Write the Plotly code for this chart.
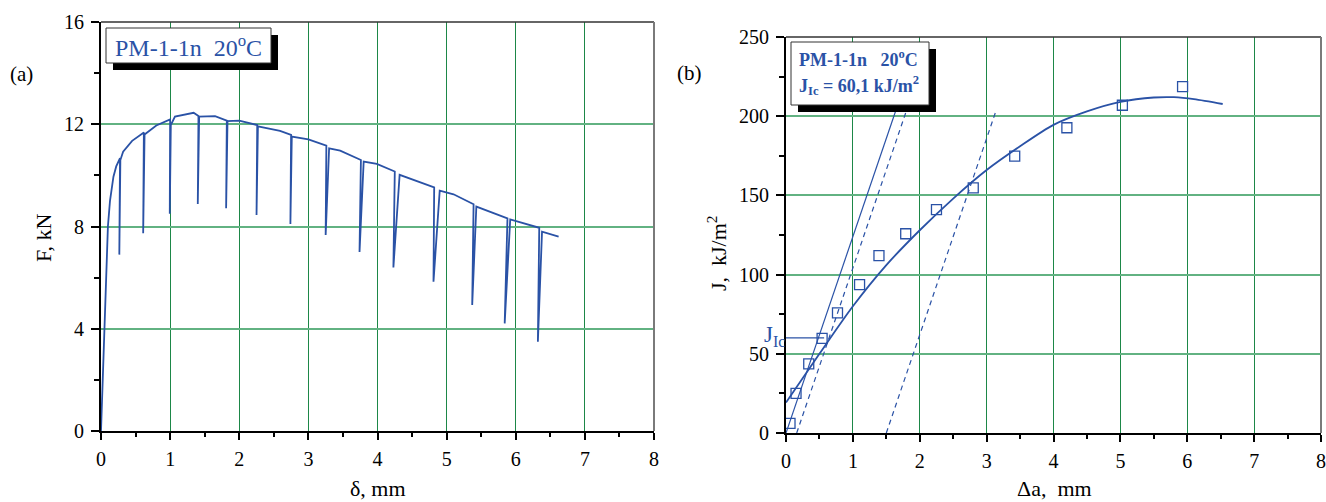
import plotly.graph_objects as go

# ---------------- data: panel (a) load-displacement record ----------------
delta_mm = [0.0, 0.05, 0.10, 0.13, 0.18, 0.22, 0.275, 0.265, 0.28, 0.32, 0.45,
            0.62, 0.61, 0.63, 0.80, 1.00, 0.995, 1.01, 1.07, 1.34,
            1.41, 1.40, 1.42, 1.65, 1.82, 1.81, 1.83, 2.00,
            2.26, 2.25, 2.27, 2.59, 2.75, 2.74, 2.76, 3.00,
            3.26, 3.25, 3.30, 3.46, 3.76, 3.74, 3.80, 3.99,
            4.25, 4.23, 4.32, 4.82, 4.81, 4.90, 5.10,
            5.39, 5.37, 5.43, 5.88, 5.84, 5.92, 6.34, 6.32, 6.38, 6.62]
force_kN = [0.0, 4.0, 8.0, 9.0, 9.95, 10.35, 10.67, 6.9, 10.6, 10.93, 11.35,
            11.68, 7.74, 11.6, 11.95, 12.19, 8.5, 11.97, 12.3, 12.45,
            12.32, 8.88, 12.3, 12.32, 12.14, 8.71, 12.12, 12.14,
            11.97, 8.45, 11.92, 11.74, 11.58, 8.1, 11.52, 11.41,
            11.16, 7.67, 11.06, 10.97, 10.6, 7.0, 10.54, 10.45,
            10.15, 6.4, 10.02, 9.53, 5.84, 9.40, 9.26,
            8.87, 4.93, 8.78, 8.32, 4.21, 8.28, 7.95, 3.49, 7.8, 7.6]

# ---------------- data: panel (b) J-R curve ----------------
da_pts = [0.06, 0.15, 0.34, 0.54, 0.77, 1.10, 1.39, 1.79, 2.25, 2.80, 3.42, 4.20, 5.03, 5.93]
J_pts = [6.1, 25.0, 43.7, 59.7, 75.8, 93.7, 112.0, 125.8, 141.0, 154.8, 174.8, 192.7, 206.9, 218.7]

fit_da = [0.0, 0.5, 1.0, 1.5, 2.0, 2.5, 3.0, 3.5, 4.0, 4.5, 5.0, 5.5, 5.8, 6.1, 6.53]
fit_J = [19.2, 50.0, 80.0, 106.0, 128.0, 148.0, 166.0, 181.0, 194.5, 203.0, 209.0, 211.8, 212.0, 210.8, 207.7]

blunt_slope = 124.0          # kJ/m^2 per mm
blunt_offsets = [0.0, 0.16, 1.5]
blunt_dash = ["solid", "dash", "dash"]
blunt_J_end = 203.0
J_Ic = 60.1
J_Ic_da_end = 0.57

x_ticks = [0, 1, 2, 3, 4, 5, 6, 7, 8]
yA_ticks = [0, 4, 8, 12, 16]
yB_ticks = [0, 50, 100, 150, 200, 250]

# ---------------- styling ----------------
W, H = 1326, 502
BLUE = "#2a52a6"
SERIF = "Liberation Serif, Times New Roman, serif"
GRID_V = "#1d8747"
GRID_H = "#62b282"


def px(x):
    return x / W


def py(y):
    return 1 - y / H


fig = go.Figure()

fig.add_trace(go.Scatter(x=delta_mm, y=force_kN, mode="lines",
                         line=dict(color=BLUE, width=1.8),
                         xaxis="x", yaxis="y", hoverinfo="skip"))

for off, dsh in zip(blunt_offsets, blunt_dash):
    xs = [off, off + blunt_J_end / blunt_slope]
    ys = [0.0, blunt_J_end]
    fig.add_trace(go.Scatter(x=xs, y=ys, mode="lines",
                             line=dict(color=BLUE, width=1.2,
                                       dash="5px,4px" if dsh == "dash" else "solid"),
                             xaxis="x2", yaxis="y2", hoverinfo="skip"))

fig.add_trace(go.Scatter(x=[0, J_Ic_da_end], y=[J_Ic, J_Ic], mode="lines",
                         line=dict(color=BLUE, width=1.2),
                         xaxis="x2", yaxis="y2", hoverinfo="skip"))

fig.add_trace(go.Scatter(x=fit_da, y=fit_J, mode="lines",
                         line=dict(color=BLUE, width=1.8, shape="spline", smoothing=0.8),
                         xaxis="x2", yaxis="y2", hoverinfo="skip"))

fig.add_trace(go.Scatter(x=da_pts, y=J_pts, mode="markers",
                         marker=dict(symbol="square-open", size=10,
                                     color=BLUE, line=dict(color=BLUE, width=1.3)),
                         xaxis="x2", yaxis="y2", hoverinfo="skip"))

tickfont = dict(family=SERIF, size=20, color="black")


def xax(domain, anchor):
    return dict(domain=domain, anchor=anchor, range=[0, 8],
                tickmode="array", tickvals=x_ticks, ticktext=[str(t) for t in x_ticks],
                ticks="outside", ticklen=7, tickwidth=2, tickcolor="black",
                showline=True, linecolor="black", linewidth=2,
                showgrid=True, gridcolor=GRID_V, gridwidth=1.2, zeroline=False,
                minor=dict(dtick=0.5, tick0=0, ticks="outside", ticklen=4,
                           tickwidth=2, tickcolor="black", showgrid=False),
                tickfont=tickfont, automargin=False, ticklabelstandoff=2)


def yax(domain, anchor, rng, ticks, minor):
    return dict(domain=domain, anchor=anchor, range=rng,
                tickmode="array", tickvals=ticks, ticktext=[str(t) for t in ticks],
                ticks="outside", ticklen=8, tickwidth=2, tickcolor="black",
                showline=True, linecolor="black", linewidth=2,
                showgrid=True, gridcolor=GRID_H, gridwidth=1.6, zeroline=False,
                minor=dict(dtick=minor, tick0=0, ticks="outside", ticklen=5,
                           tickwidth=2, tickcolor="black", showgrid=False),
                tickfont=tickfont, automargin=False, ticklabelstandoff=3)


shapes = []
for xr, yr in (("x domain", "y domain"), ("x2 domain", "y2 domain")):
    shapes.append(dict(type="line", xref=xr, yref=yr, x0=0, x1=1, y0=1, y1=1,
                       line=dict(color="#333333", width=1.5), layer="above"))
    shapes.append(dict(type="line", xref=xr, yref=yr, x0=1, x1=1, y0=0, y1=1,
                       line=dict(color="#7a7a7a", width=2), layer="above"))


def box(x0, y0, x1, y1, sh):
    shapes.append(dict(type="rect", xref="paper", yref="paper",
                       x0=px(x0 + sh), x1=px(x1 + sh), y0=py(y1 + sh), y1=py(y0 + sh),
                       fillcolor="black", line=dict(width=0), layer="above"))
    shapes.append(dict(type="rect", xref="paper", yref="paper",
                       x0=px(x0), x1=px(x1), y0=py(y1), y1=py(y0),
                       fillcolor="white", line=dict(color="#333333", width=1), layer="above"))


box(106, 28, 271, 63, 7)
box(791, 42, 929, 105, 7)


def ann(text, x, y, size, color="black", angle=0, xanchor="center", yanchor="middle"):
    return dict(text=text, x=px(x), y=py(y), xref="paper", yref="paper",
                showarrow=False, textangle=angle, xanchor=xanchor, yanchor=yanchor,
                font=dict(family=SERIF, size=size, color=color))


annotations = [
    ann("(a)", 21, 74, 21),
    ann("(b)", 689, 73, 21),
    ann("F, kN", 43, 238, 22, angle=-90),
    ann("δ, mm", 378, 488, 22),
    ann("J,&nbsp;&nbsp;kJ/m<sup>2</sup>", 717, 253, 22, angle=-90),
    ann("Δa,&nbsp;&nbsp;mm", 1054, 488, 22),
    ann("PM-1-1n&nbsp;&nbsp;20<sup>o</sup>C", 188, 46, 24, color=BLUE),
    ann("<b>PM-1-1n&nbsp;&nbsp;&nbsp;20<sup>o</sup>C</b>", 797, 58, 18, color=BLUE, xanchor="left"),
    ann("<b>J<sub>Ic</sub> = 60,1 kJ/m<sup>2</sup></b>", 797, 86, 18, color=BLUE, xanchor="left"),
    ann("J<sub>Ic</sub>", 762, 336, 23, color=BLUE, xanchor="left"),
]

fig.update_layout(
    width=W, height=H,
    margin=dict(l=0, r=0, t=0, b=0),
    paper_bgcolor="white", plot_bgcolor="white",
    showlegend=False,
    xaxis=xax([101 / W, 654 / W], "y"),
    yaxis=yax([71 / H, 480 / H], "x", [0, 16], yA_ticks, 2),
    xaxis2=xax([786 / W, 1321 / W], "y2"),
    yaxis2=yax([69 / H, 465 / H], "x2", [0, 250], yB_ticks, 25),
    shapes=shapes,
    annotations=annotations,
)

fig.write_html("out.html",
               config={"displayModeBar": False},
               post_script="document.body.style.margin='0';document.body.style.padding='0';"
                           "document.body.style.overflow='hidden';")
